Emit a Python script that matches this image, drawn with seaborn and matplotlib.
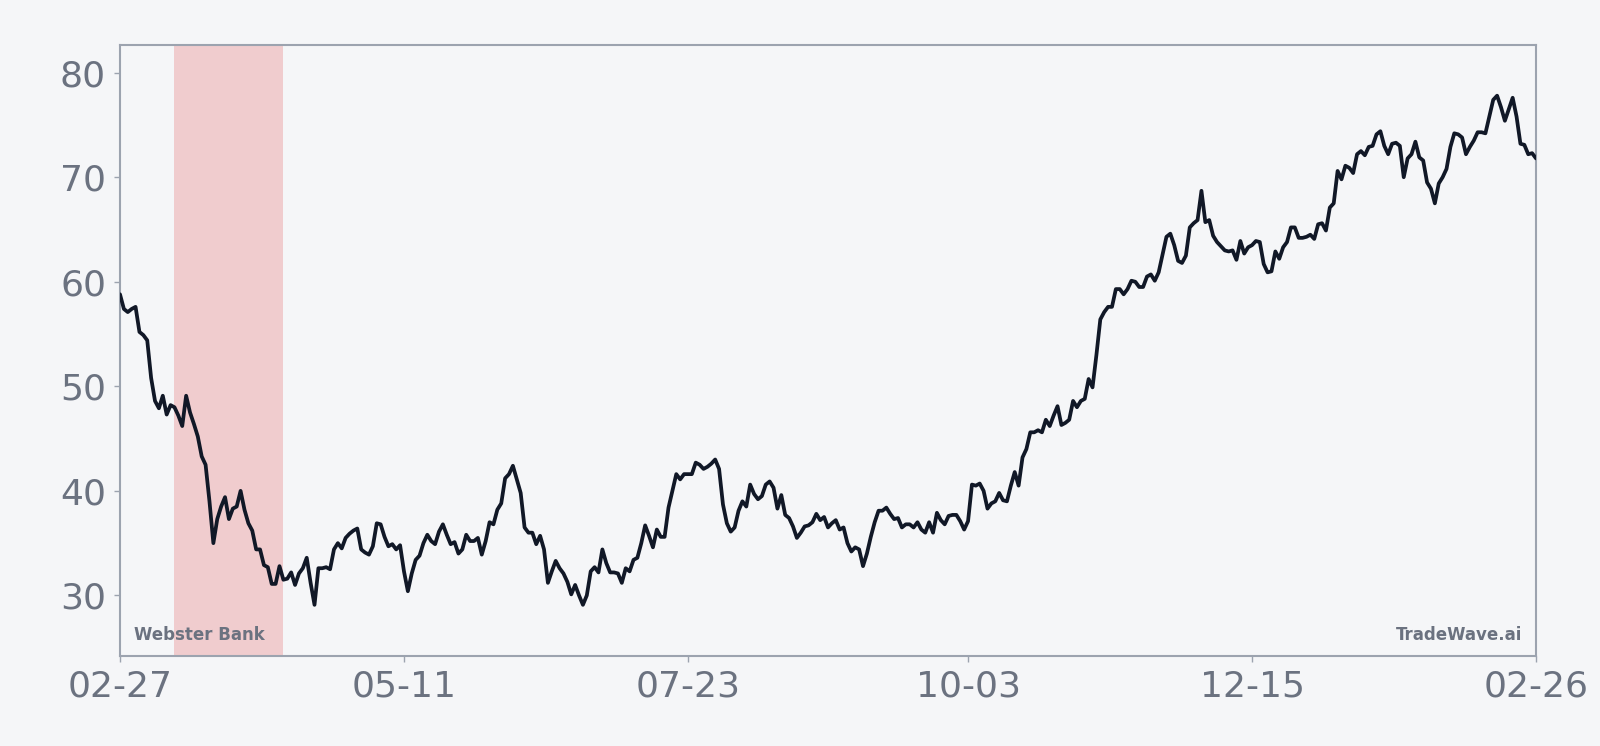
import numpy as np
import pandas as pd
import matplotlib
matplotlib.use("Agg")
import matplotlib.pyplot as plt
import matplotlib.dates as mdates
import seaborn as sns

# daily closes, 2023-02-27 .. 2024-02-26
start_date = "2023-02-27"
prices = [
    58.8, 57.4, 57.1, 57.4, 57.6, 55.2, 54.9, 54.4, 50.8, 48.6,
    47.9, 49.1, 47.3, 48.2, 48.0, 47.2, 46.2, 49.1, 47.5, 46.4,
    45.2, 43.3, 42.5, 39.0, 35.0, 37.3, 38.5, 39.4, 37.3, 38.3,
    38.5, 40.0, 38.2, 36.9, 36.2, 34.4, 34.4, 32.9, 32.7, 31.1,
    31.1, 32.8, 31.5, 31.6, 32.2, 31.0, 32.1, 32.6, 33.6, 31.2,
    29.1, 32.6, 32.6, 32.7, 32.5, 34.4, 35.0, 34.5, 35.5, 35.9,
    36.2, 36.4, 34.4, 34.1, 33.9, 34.7, 36.9, 36.8, 35.6, 34.7,
    34.9, 34.4, 34.8, 32.3, 30.4, 32.1, 33.4, 33.8, 35.0, 35.8,
    35.2, 34.9, 36.1, 36.8, 35.8, 34.9, 35.1, 34.0, 34.4, 35.8,
    35.2, 35.2, 35.5, 33.9, 35.2, 37.0, 36.8, 38.2, 38.8, 41.2,
    41.6, 42.4, 41.1, 39.8, 36.5, 36.0, 36.0, 34.9, 35.7, 34.4,
    31.2, 32.3, 33.3, 32.6, 32.1, 31.3, 30.1, 31.0, 30.0, 29.1,
    30.0, 32.3, 32.7, 32.2, 34.4, 33.1, 32.2, 32.2, 32.1, 31.2,
    32.6, 32.3, 33.4, 33.6, 35.0, 36.7, 35.7, 34.6, 36.3, 35.6,
    35.6, 38.4, 40.0, 41.6, 41.1, 41.6, 41.6, 41.6, 42.7, 42.5,
    42.1, 42.3, 42.6, 43.0, 42.1, 38.7, 36.9, 36.1, 36.5, 38.1,
    39.0, 38.5, 40.6, 39.7, 39.2, 39.5, 40.6, 40.9, 40.3, 38.3,
    39.6, 37.7, 37.4, 36.6, 35.5, 36.0, 36.6, 36.7, 37.0, 37.8,
    37.2, 37.5, 36.5, 36.9, 37.2, 36.3, 36.5, 35.0, 34.2, 34.6,
    34.4, 32.8, 34.0, 35.6, 37.0, 38.1, 38.1, 38.4, 37.8, 37.3,
    37.4, 36.5, 36.8, 36.8, 36.5, 37.0, 36.3, 36.0, 37.0, 36.0,
    37.9, 37.2, 36.8, 37.6, 37.7, 37.7, 37.1, 36.3, 37.1, 40.6,
    40.5, 40.7, 40.0, 38.3, 38.8, 39.0, 39.8, 39.1, 39.0, 40.5,
    41.8, 40.5, 43.2, 44.0, 45.6, 45.6, 45.8, 45.6, 46.8, 46.2,
    47.2, 48.1, 46.3, 46.5, 46.8, 48.6, 48.0, 48.6, 48.8, 50.7,
    49.9, 53.0, 56.4, 57.1, 57.6, 57.6, 59.3, 59.3, 58.8, 59.3,
    60.1, 60.0, 59.5, 59.5, 60.5, 60.7, 60.1, 60.9, 62.6, 64.3,
    64.6, 63.5, 62.0, 61.8, 62.5, 65.2, 65.6, 65.9, 68.7, 65.7,
    65.9, 64.4, 63.8, 63.4, 63.0, 62.9, 63.0, 62.1, 63.9, 62.7,
    63.3, 63.5, 63.9, 63.8, 61.7, 60.9, 61.0, 62.9, 62.2, 63.3,
    63.8, 65.2, 65.2, 64.2, 64.2, 64.3, 64.5, 64.1, 65.5, 65.6,
    64.9, 67.1, 67.5, 70.6, 69.8, 71.1, 70.9, 70.4, 72.2, 72.5,
    72.1, 72.9, 73.0, 74.1, 74.4, 73.0, 72.2, 73.2, 73.3, 73.0,
    70.0, 71.8, 72.2, 73.4, 71.9, 71.6, 69.5, 68.9, 67.5, 69.4,
    70.0, 70.8, 72.9, 74.2, 74.1, 73.8, 72.2, 72.9, 73.5, 74.3,
    74.3, 74.2, 75.8, 77.4, 77.8, 76.7, 75.4, 76.5, 77.6, 75.8,
    73.2, 73.1, 72.2, 72.3, 71.8,
]

# crisis window shaded on the chart
event_start = "2023-03-13"
event_end = "2023-04-10"

tick_dates = ["2023-02-27", "2023-05-11", "2023-07-23",
              "2023-10-03", "2023-12-15", "2024-02-26"]
y_ticks = [30, 40, 50, 60, 70, 80]

bank_name = "Webster Bank"
brand = "TradeWave.ai"

df = pd.DataFrame({
    "date": pd.date_range(start_date, periods=len(prices), freq="D"),
    "close": prices,
})

bg = "#f5f6f8"
grey_txt = "#6b7280"
spine_col = "#9ca3af"

sns.set_theme(style="white")
plt.rcParams["font.family"] = ["DejaVu Sans"]

fig = plt.figure(figsize=(16, 7.46), dpi=100, facecolor=bg)
ax = fig.add_axes([0.075, 0.121, 0.885, 0.819])
ax.set_facecolor(bg)

ax.axvspan(pd.Timestamp(event_start), pd.Timestamp(event_end),
           color="#dc2626", alpha=0.2, lw=0, zorder=1)

sns.lineplot(data=df, x="date", y="close", ax=ax, color="#111827",
             linewidth=2.7, zorder=3)

lo, hi = df["close"].min(), df["close"].max()
pad = (hi - lo) * 0.1
ax.set_ylim(lo - pad, hi + pad)
ax.set_xlim(df["date"].iloc[0], df["date"].iloc[-1])

ax.set_xticks(pd.to_datetime(tick_dates))
ax.xaxis.set_major_formatter(mdates.DateFormatter("%m-%d"))
ax.set_yticks(y_ticks)

ax.tick_params(axis="both", labelsize=26, colors=spine_col, labelcolor=grey_txt,
               length=4, width=1, pad=6, direction="out",
               bottom=True, left=True)
ax.set_xlabel("")
ax.set_ylabel("")

for s in ax.spines.values():
    s.set_visible(True)
    s.set_color(spine_col)
    s.set_linewidth(1.5)

ax.text(0.01, 0.02, bank_name, transform=ax.transAxes, ha="left", va="bottom",
        fontsize=12, fontweight="bold", color=grey_txt, zorder=4)
ax.text(0.99, 0.02, brand, transform=ax.transAxes, ha="right", va="bottom",
        fontsize=12, fontweight="bold", color=grey_txt, zorder=4)

fig.savefig("out.png", dpi=100, facecolor=bg)
